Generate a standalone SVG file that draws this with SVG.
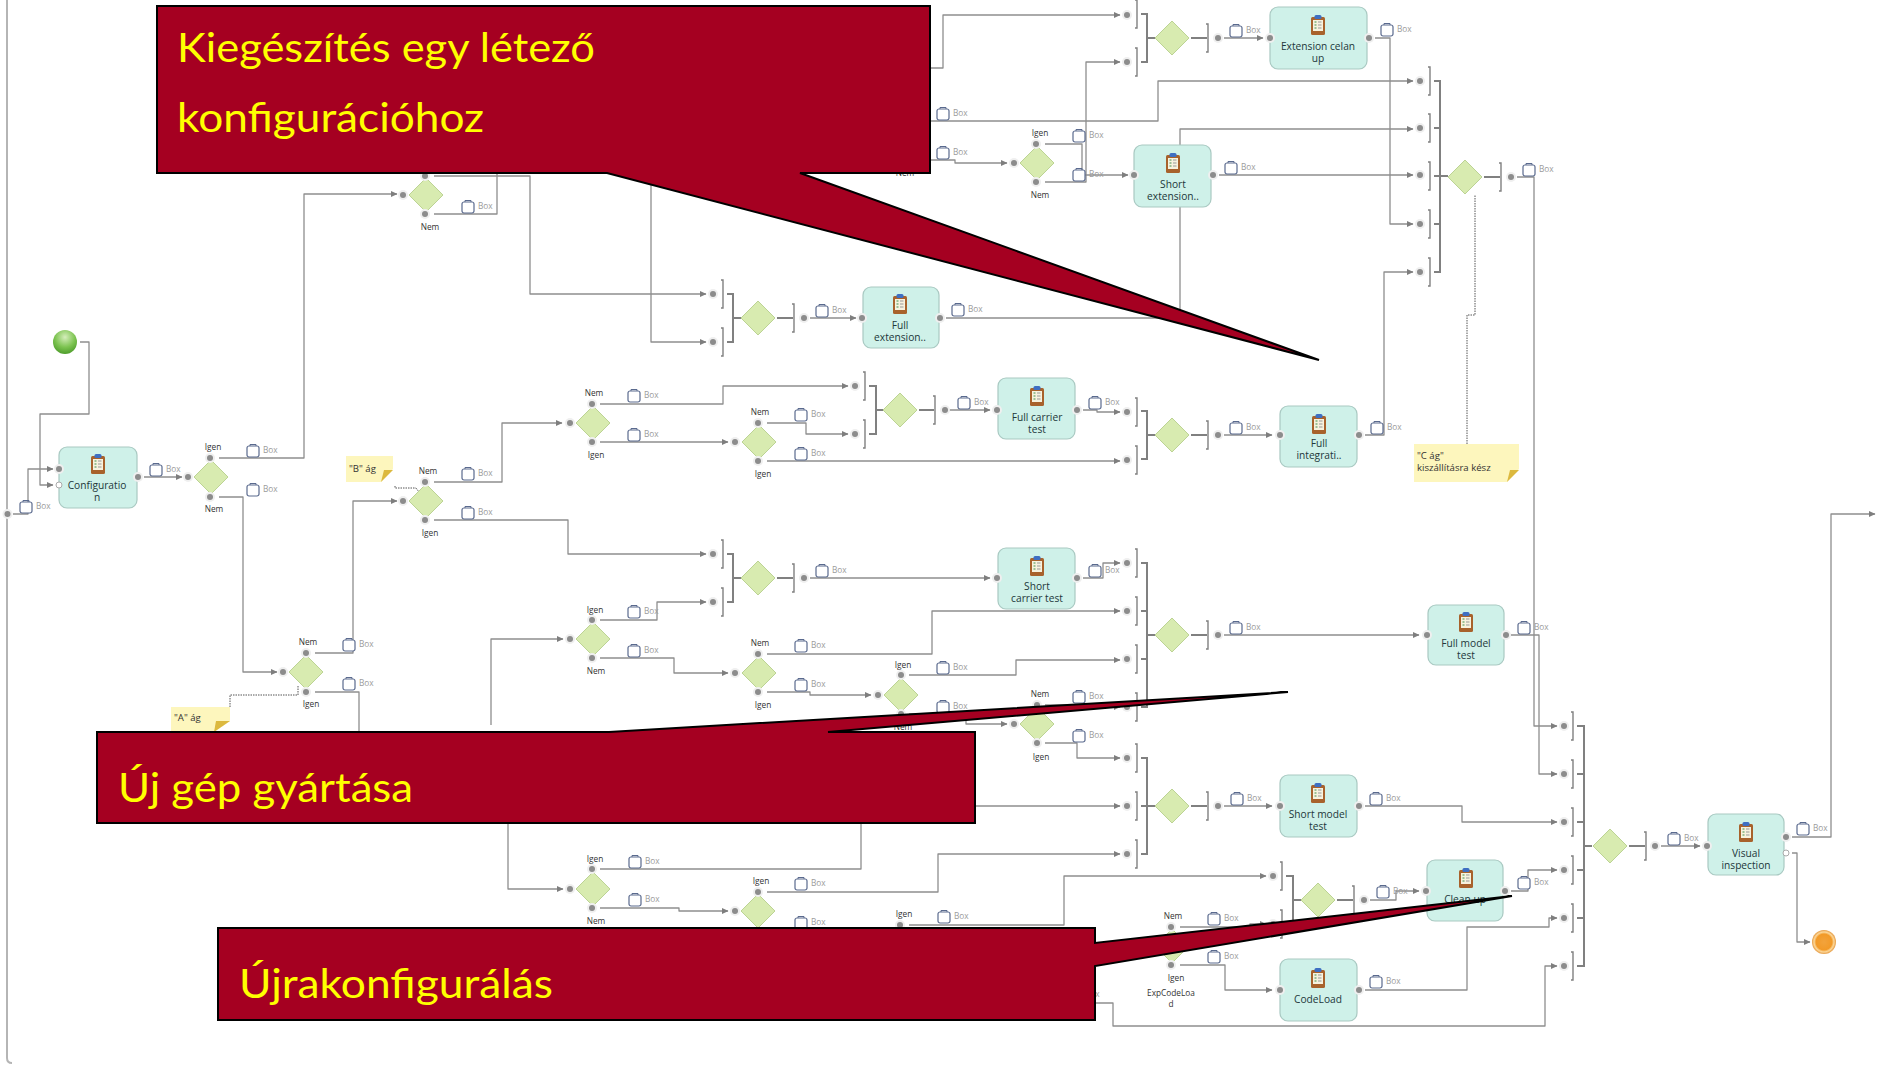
<svg xmlns="http://www.w3.org/2000/svg" width="1879" height="1065" viewBox="0 0 1879 1065">
<style>
text{font-family:"Open Sans","Liberation Sans",Arial,sans-serif}
.c{fill:none;stroke:#8e8e8e;stroke-width:1.3;stroke-linejoin:round}
.a{marker-end:url(#ah)}
.d{fill:none;stroke:#555;stroke-width:1;stroke-dasharray:1.5 1}
.br{fill:none;stroke:#808080;stroke-width:1.4}
.j{fill:none;stroke:#808080;stroke-width:2}
.t{fill:#cff1e9;stroke:#a9c9c2;stroke-width:1.2}
.n{font-size:10.2px;fill:#22373a;text-anchor:middle}
.l{font-size:8.3px;fill:#333;text-anchor:middle}
.b{font-size:8.3px;fill:#9b9b9b}
.note{fill:#fdf6bd}
.fold{fill:#dcb93f}
.nt{font-size:9.6px;fill:#333}
.co{fill:#a50021;stroke:#000;stroke-width:2;stroke-linejoin:miter}
.ct{font-family:Lato,"Open Sans",sans-serif;font-size:41px;fill:#ffff00}
</style>
<defs>
<marker id="ah" markerUnits="userSpaceOnUse" markerWidth="7" markerHeight="7" refX="6.5" refY="3.5" orient="auto"><path d="M0,0.3L7,3.5L0,6.7Z" fill="#7e7e7e"/></marker>
<radialGradient id="gs" cx="50%" cy="30%" r="70%"><stop offset="0" stop-color="#d5eebb"/><stop offset="0.6" stop-color="#7cc350"/><stop offset="1" stop-color="#4f9e2c"/></radialGradient>
<radialGradient id="ge" cx="50%" cy="50%" r="55%"><stop offset="0" stop-color="#f2a33c"/><stop offset="0.6" stop-color="#f29a28"/><stop offset="0.75" stop-color="#fbd79a"/><stop offset="1" stop-color="#d9780f"/></radialGradient>
<g id="dm"><path d="M0,-17L17,0L0,17L-17,0Z" fill="#d8ebb0" stroke="#bcd394" stroke-width="1"/></g>
<g id="p"><circle r="5" fill="#efefef"/><circle r="3" fill="#8c8c8c"/></g>
<g id="pw"><circle r="3" fill="#fff" stroke="#aaa" stroke-width="1"/></g>
<path id="br" class="br" d="M-2,-14H0V14H-2"/>
<g id="bx"><rect x="-6" y="-5" width="12" height="11" rx="2" fill="#fff" stroke="#5a6a8e" stroke-width="1.2"/><path d="M-3,-5V-6.5H3V-5" fill="none" stroke="#5a6a8e" stroke-width="1"/></g>
<g id="ic"><rect x="-7" y="-8" width="14" height="18" rx="1.5" fill="#a8622c"/><rect x="-5" y="-5" width="10" height="11" fill="#f7f2de"/><rect x="-3.5" y="-10" width="7" height="4" rx="1.5" fill="#3e6fc2"/><path d="M-3.5,-3h2M-3.5,0h2M-3.5,3h2" stroke="#3e8f4a" stroke-width="1"/><path d="M0,-3h3.5M0,0h3.5M0,3h3.5" stroke="#999" stroke-width="1"/></g>
</defs>
<rect width="1879" height="1065" fill="#fff"/>
<path d="M7,0V1058Q7,1063 12,1063" fill="none" stroke="#b5b5b5" stroke-width="2"/>
<g id="connectors">
<path class="c a" d="M80,342H89V414H40V485H53"/>
<path class="c a" d="M13,514H28V469H53"/>
<path class="c a" d="M144,477H182"/>
<path class="c a" d="M219,458H304V194H397"/>
<path class="c a" d="M219,497H243V672H277"/>
<path class="c a" d="M315,653H353V501H397"/>
<path class="c" d="M315,692H359V740"/>
<path class="c" d="M434,214H497V160"/>
<path class="c a" d="M434,176H530V294H706"/>
<path class="c a" d="M651,160V342H706"/>
<path class="c a" d="M810,318H856"/>
<path class="c a" d="M946,318H1180V129H1413"/>
<path class="c a" d="M1219,175H1413"/>
<path class="c a" d="M1045,144H1082V175H1128"/>
<path class="c a" d="M1045,182H1086V62H1120"/>
<path class="c a" d="M900,160H955V163H1007"/>
<path class="c a" d="M900,121H1158V81H1413"/>
<path class="c a" d="M900,68H943V15H1120"/>
<path class="c a" d="M1224,38H1263"/>
<path class="c a" d="M1375,38H1390V224H1413"/>
<path class="c a" d="M1365,435H1384V272H1413"/>
<path class="c a" d="M1224,435H1272"/>
<path class="c a" d="M1083,410H1097V412H1120"/>
<path class="c a" d="M767,461H1120"/>
<path class="c a" d="M945,410H990"/>
<path class="c a" d="M1517,177H1534V726H1557"/>
<path class="c a" d="M1511,635H1539V774H1557"/>
<path class="c a" d="M1365,806H1462V822H1557"/>
<path class="c a" d="M1511,891H1528V870H1557"/>
<path class="c a" d="M1365,990H1467V927H1549V918H1557"/>
<path class="c a" d="M1090,1003H1113V1026H1545V966H1557"/>
<path class="c a" d="M1224,806H1272"/>
<path class="c a" d="M1224,635H1419"/>
<path class="c a" d="M909,925H1064V876H1266"/>
<path class="c a" d="M1180,927H1250V924H1266"/>
<path class="c a" d="M1180,965H1225V990H1272"/>
<path class="c a" d="M1370,900H1396V891H1419"/>
<path class="c a" d="M1661,846H1700"/>
<path class="c a" d="M1792,837H1831V514H1875"/>
<path class="c a" d="M1792,853H1797V942H1810"/>
<path class="c a" d="M960,806H1120"/>
<path class="c" d="M600,869H861V800"/>
<path class="c a" d="M508,810V889H563"/>
<path class="c a" d="M491,725V639H563"/>
<path class="c a" d="M600,908H679V911H728"/>
<path class="c a" d="M767,892H938V854H1120"/>
<path class="c a" d="M600,620H657V602H706"/>
<path class="c a" d="M600,658H674V673H728"/>
<path class="c a" d="M767,654H932V611H1120"/>
<path class="c a" d="M767,692H810V695H871"/>
<path class="c a" d="M909,675H1016V660H1120"/>
<path class="c a" d="M909,714H966V724H1007"/>
<path class="c a" d="M1045,705H1080V707H1120"/>
<path class="c a" d="M1045,743H1077V758H1120"/>
<path class="c a" d="M434,520H568V554H706"/>
<path class="c a" d="M810,578H990"/>
<path class="c a" d="M600,404H723V386H848"/>
<path class="c a" d="M600,442H728"/>
<path class="c a" d="M767,423H806V434H848"/>
<path class="c a" d="M434,482H502V423H562"/>
<path class="c a" d="M1083,578H1103V563H1120"/>
<path class="d" d="M230,707V695H298V685"/>
<path class="d" d="M395,486V488H416L419,492"/>
<path class="d" d="M1467,444V315H1475V195"/>
</g>
<g id="connector-labels">
<use href="#bx" x="26" y="507"/><text class="b" x="36" y="509">Box</text>
<use href="#bx" x="156" y="470"/><text class="b" x="166" y="472">Box</text>
<use href="#bx" x="253" y="451"/><text class="b" x="263" y="453">Box</text>
<use href="#bx" x="253" y="490"/><text class="b" x="263" y="492">Box</text>
<use href="#bx" x="349" y="645"/><text class="b" x="359" y="647">Box</text>
<use href="#bx" x="349" y="684"/><text class="b" x="359" y="686">Box</text>
<use href="#bx" x="468" y="207"/><text class="b" x="478" y="209">Box</text>
<use href="#bx" x="468" y="474"/><text class="b" x="478" y="476">Box</text>
<use href="#bx" x="468" y="513"/><text class="b" x="478" y="515">Box</text>
<use href="#bx" x="634" y="396"/><text class="b" x="644" y="398">Box</text>
<use href="#bx" x="634" y="435"/><text class="b" x="644" y="437">Box</text>
<use href="#bx" x="801" y="415"/><text class="b" x="811" y="417">Box</text>
<use href="#bx" x="801" y="454"/><text class="b" x="811" y="456">Box</text>
<use href="#bx" x="822" y="311"/><text class="b" x="832" y="313">Box</text>
<use href="#bx" x="958" y="310"/><text class="b" x="968" y="312">Box</text>
<use href="#bx" x="964" y="403"/><text class="b" x="974" y="405">Box</text>
<use href="#bx" x="1095" y="403"/><text class="b" x="1105" y="405">Box</text>
<use href="#bx" x="1236" y="428"/><text class="b" x="1246" y="430">Box</text>
<use href="#bx" x="1377" y="428"/><text class="b" x="1387" y="430">Box</text>
<use href="#bx" x="1236" y="628"/><text class="b" x="1246" y="630">Box</text>
<use href="#bx" x="1524" y="628"/><text class="b" x="1534" y="630">Box</text>
<use href="#bx" x="1237" y="799"/><text class="b" x="1247" y="801">Box</text>
<use href="#bx" x="1376" y="799"/><text class="b" x="1386" y="801">Box</text>
<use href="#bx" x="1383" y="892"/><text class="b" x="1393" y="894">Box</text>
<use href="#bx" x="1524" y="883"/><text class="b" x="1534" y="885">Box</text>
<use href="#bx" x="1214" y="919"/><text class="b" x="1224" y="921">Box</text>
<use href="#bx" x="1214" y="957"/><text class="b" x="1224" y="959">Box</text>
<use href="#bx" x="1376" y="982"/><text class="b" x="1386" y="984">Box</text>
<use href="#bx" x="1674" y="839"/><text class="b" x="1684" y="841">Box</text>
<use href="#bx" x="1803" y="829"/><text class="b" x="1813" y="831">Box</text>
<use href="#bx" x="1236" y="31"/><text class="b" x="1246" y="33">Box</text>
<use href="#bx" x="1387" y="30"/><text class="b" x="1397" y="32">Box</text>
<use href="#bx" x="943" y="114"/><text class="b" x="953" y="116">Box</text>
<use href="#bx" x="943" y="153"/><text class="b" x="953" y="155">Box</text>
<use href="#bx" x="1079" y="136"/><text class="b" x="1089" y="138">Box</text>
<use href="#bx" x="1079" y="175"/><text class="b" x="1089" y="177">Box</text>
<use href="#bx" x="1231" y="168"/><text class="b" x="1241" y="170">Box</text>
<use href="#bx" x="1529" y="170"/><text class="b" x="1539" y="172">Box</text>
<use href="#bx" x="822" y="571"/><text class="b" x="832" y="573">Box</text>
<use href="#bx" x="1095" y="571"/><text class="b" x="1105" y="573">Box</text>
<use href="#bx" x="634" y="612"/><text class="b" x="644" y="614">Box</text>
<use href="#bx" x="634" y="651"/><text class="b" x="644" y="653">Box</text>
<use href="#bx" x="801" y="646"/><text class="b" x="811" y="648">Box</text>
<use href="#bx" x="801" y="685"/><text class="b" x="811" y="687">Box</text>
<use href="#bx" x="943" y="668"/><text class="b" x="953" y="670">Box</text>
<use href="#bx" x="943" y="707"/><text class="b" x="953" y="709">Box</text>
<use href="#bx" x="1079" y="697"/><text class="b" x="1089" y="699">Box</text>
<use href="#bx" x="1079" y="736"/><text class="b" x="1089" y="738">Box</text>
<use href="#bx" x="635" y="862"/><text class="b" x="645" y="864">Box</text>
<use href="#bx" x="635" y="900"/><text class="b" x="645" y="902">Box</text>
<use href="#bx" x="801" y="884"/><text class="b" x="811" y="886">Box</text>
<use href="#bx" x="801" y="923"/><text class="b" x="811" y="925">Box</text>
<use href="#bx" x="944" y="917"/><text class="b" x="954" y="919">Box</text>
<text class="b" x="1085" y="997">Box</text>
<text class="l" x="905" y="176">Nem</text>
</g>
<g id="start"><circle cx="65" cy="342" r="12" fill="url(#gs)"/></g>
<g id="end"><circle cx="1824" cy="942" r="12" fill="url(#ge)"/></g>
<g id="port-left"><use href="#p" x="7.5" y="514"/></g>
<g id="t-configuration"><rect class="t" x="59" y="447" width="78" height="61" rx="8"/><use href="#ic" x="98" y="464"/><text class="n" x="97" y="489">Configuratio</text><text class="n" x="97" y="501">n</text><use href="#p" x="59" y="469"/><use href="#pw" x="59" y="485"/><use href="#p" x="138" y="477"/></g>
<g id="t-full-extension"><rect class="t" x="863" y="287" width="76" height="61" rx="8"/><use href="#ic" x="900" y="304"/><text class="n" x="900" y="329">Full</text><text class="n" x="900" y="341">extension..</text><use href="#p" x="862" y="318"/><use href="#p" x="940" y="318"/></g>
<g id="t-full-carrier"><rect class="t" x="998" y="378" width="77" height="61" rx="8"/><use href="#ic" x="1037" y="396"/><text class="n" x="1037" y="421">Full carrier</text><text class="n" x="1037" y="433">test</text><use href="#p" x="997" y="410"/><use href="#p" x="1077" y="410"/></g>
<g id="t-full-integration"><rect class="t" x="1280" y="406" width="77" height="61" rx="8"/><use href="#ic" x="1319" y="424"/><text class="n" x="1319" y="447">Full</text><text class="n" x="1319" y="459">integrati..</text><use href="#p" x="1280" y="435"/><use href="#p" x="1359" y="435"/></g>
<g id="t-short-carrier"><rect class="t" x="998" y="548" width="77" height="61" rx="8"/><use href="#ic" x="1037" y="566"/><text class="n" x="1037" y="590">Short</text><text class="n" x="1037" y="602">carrier test</text><use href="#p" x="997" y="578"/><use href="#p" x="1077" y="578"/></g>
<g id="t-full-model"><rect class="t" x="1428" y="605" width="76" height="60" rx="8"/><use href="#ic" x="1466" y="622"/><text class="n" x="1466" y="647">Full model</text><text class="n" x="1466" y="659">test</text><use href="#p" x="1427" y="635"/><use href="#p" x="1506" y="635"/></g>
<g id="t-short-model"><rect class="t" x="1280" y="775" width="77" height="62" rx="8"/><use href="#ic" x="1318" y="793"/><text class="n" x="1318" y="818">Short model</text><text class="n" x="1318" y="830">test</text><use href="#p" x="1280" y="806"/><use href="#p" x="1359" y="806"/></g>
<g id="t-clean-up"><rect class="t" x="1427" y="860" width="76" height="61" rx="8"/><use href="#ic" x="1466" y="878"/><text class="n" x="1465" y="903">Clean up</text><use href="#p" x="1426" y="891"/><use href="#p" x="1505" y="891"/></g>
<g id="t-codeload"><rect class="t" x="1280" y="959" width="77" height="62" rx="8"/><use href="#ic" x="1318" y="978"/><text class="n" x="1318" y="1003">CodeLoad</text><use href="#p" x="1280" y="990"/><use href="#p" x="1359" y="990"/></g>
<g id="t-visual"><rect class="t" x="1708" y="814" width="76" height="61" rx="8"/><use href="#ic" x="1746" y="832"/><text class="n" x="1746" y="857">Visual</text><text class="n" x="1746" y="869">inspection</text><use href="#p" x="1707" y="846"/><use href="#p" x="1786" y="837"/><use href="#pw" x="1786" y="853"/></g>
<g id="t-extension-cleanup"><rect class="t" x="1270" y="7" width="97" height="62" rx="8"/><use href="#ic" x="1318" y="25"/><text class="n" x="1318" y="50">Extension celan</text><text class="n" x="1318" y="62">up</text><use href="#p" x="1270" y="38"/><use href="#p" x="1369" y="38"/></g>
<g id="t-short-extension"><rect class="t" x="1134" y="145" width="77" height="62" rx="8"/><use href="#ic" x="1173" y="163"/><text class="n" x="1173" y="188">Short</text><text class="n" x="1173" y="200">extension..</text><use href="#p" x="1134" y="175"/><use href="#p" x="1213" y="175"/></g>

<g id="g1"><use href="#dm" x="211" y="477"/><use href="#p" x="188" y="477"/><use href="#p" x="210" y="458"/><use href="#p" x="210" y="497"/><text class="l" x="213" y="450">Igen</text><text class="l" x="214" y="512">Nem</text></g>
<g id="g2"><use href="#dm" x="306" y="672"/><use href="#p" x="283" y="672"/><use href="#p" x="306" y="653"/><use href="#p" x="306" y="692"/><text class="l" x="308" y="645">Nem</text><text class="l" x="311" y="707">Igen</text></g>
<g id="g3"><use href="#dm" x="426" y="195"/><use href="#p" x="403" y="195"/><use href="#p" x="425" y="176"/><use href="#p" x="425" y="214"/><text class="l" x="430" y="230">Nem</text></g>
<g id="g4"><use href="#dm" x="426" y="501"/><use href="#p" x="403" y="501"/><use href="#p" x="425" y="482"/><use href="#p" x="425" y="520"/><text class="l" x="428" y="474">Nem</text><text class="l" x="430" y="536">Igen</text></g>
<g id="g5"><use href="#dm" x="593" y="423"/><use href="#p" x="570" y="423"/><use href="#p" x="592" y="404"/><use href="#p" x="592" y="442"/><text class="l" x="594" y="396">Nem</text><text class="l" x="596" y="458">Igen</text></g>
<g id="g6"><use href="#dm" x="759" y="442"/><use href="#p" x="735" y="442"/><use href="#p" x="758" y="423"/><use href="#p" x="758" y="461"/><text class="l" x="760" y="415">Nem</text><text class="l" x="763" y="477">Igen</text></g>
<g id="g7"><use href="#dm" x="593" y="639"/><use href="#p" x="570" y="639"/><use href="#p" x="592" y="620"/><use href="#p" x="592" y="658"/><text class="l" x="595" y="613">Igen</text><text class="l" x="596" y="674">Nem</text></g>
<g id="g8"><use href="#dm" x="759" y="673"/><use href="#p" x="735" y="673"/><use href="#p" x="758" y="654"/><use href="#p" x="758" y="692"/><text class="l" x="760" y="646">Nem</text><text class="l" x="763" y="708">Igen</text></g>
<g id="g9"><use href="#dm" x="901" y="695"/><use href="#p" x="878" y="695"/><use href="#p" x="901" y="675"/><use href="#p" x="901" y="714"/><text class="l" x="903" y="668">Igen</text><text class="l" x="903" y="730">Nem</text></g>
<g id="g10"><use href="#dm" x="1037" y="724"/><use href="#p" x="1014" y="724"/><use href="#p" x="1037" y="705"/><use href="#p" x="1037" y="743"/><text class="l" x="1040" y="697">Nem</text><text class="l" x="1041" y="760">Igen</text></g>
<g id="g11"><use href="#dm" x="593" y="889"/><use href="#p" x="570" y="889"/><use href="#p" x="592" y="869"/><use href="#p" x="592" y="908"/><text class="l" x="595" y="862">Igen</text><text class="l" x="596" y="924">Nem</text></g>
<g id="g12"><use href="#dm" x="758" y="911"/><use href="#p" x="735" y="911"/><use href="#p" x="758" y="892"/><text class="l" x="761" y="884">Igen</text></g>
<g id="g13"><use href="#p" x="900" y="925"/><text class="l" x="904" y="917">Igen</text></g>
<g id="g14"><use href="#dm" x="1037" y="163"/><use href="#p" x="1014" y="163"/><use href="#p" x="1036" y="144"/><use href="#p" x="1036" y="182"/><text class="l" x="1040" y="136">Igen</text><text class="l" x="1040" y="198">Nem</text></g>
<g id="g15"><use href="#dm" x="1172" y="946"/><use href="#p" x="1171" y="927"/><use href="#p" x="1171" y="965"/><text class="l" x="1173" y="919">Nem</text><text class="l" x="1176" y="981">Igen</text><text class="l" x="1171" y="996">ExpCodeLoa</text><text class="l" x="1171" y="1007">d</text></g>

<g id="m1"><use href="#p" x="713" y="294"/><use href="#p" x="713" y="342"/><use href="#br" x="723" y="294"/><use href="#br" x="723" y="342"/><path class="j" d="M727,294H733V342H727M733,318H741"/><use href="#dm" x="758" y="318"/><path class="j" d="M777,318H793"/><use href="#br" x="794" y="318"/><use href="#p" x="804" y="318"/></g>
<g id="m2"><use href="#p" x="855" y="386"/><use href="#p" x="855" y="434"/><use href="#br" x="865" y="386"/><use href="#br" x="865" y="434"/><path class="j" d="M869,386H876V434H869M876,410H884"/><use href="#dm" x="900" y="410"/><path class="j" d="M919,410H934"/><use href="#br" x="935" y="410"/><use href="#p" x="945" y="410"/></g>
<g id="m3"><use href="#p" x="1127" y="412"/><use href="#p" x="1127" y="460"/><use href="#br" x="1137" y="412"/><use href="#br" x="1137" y="460"/><path class="j" d="M1141,411H1147V459H1141M1147,435H1155"/><use href="#dm" x="1172" y="435"/><path class="j" d="M1191,435H1207"/><use href="#br" x="1208" y="435"/><use href="#p" x="1218" y="435"/></g>
<g id="m4"><use href="#p" x="713" y="554"/><use href="#p" x="713" y="602"/><use href="#br" x="723" y="554"/><use href="#br" x="723" y="602"/><path class="j" d="M727,554H733V602H727M733,578H741"/><use href="#dm" x="758" y="578"/><path class="j" d="M777,578H793"/><use href="#br" x="794" y="578"/><use href="#p" x="804" y="578"/></g>
<g id="m5"><use href="#p" x="1127" y="563"/><use href="#p" x="1127" y="611"/><use href="#p" x="1127" y="659"/><use href="#p" x="1127" y="707"/><use href="#br" x="1137" y="563"/><use href="#br" x="1137" y="611"/><use href="#br" x="1137" y="659"/><use href="#br" x="1137" y="707"/><path class="j" d="M1141,563H1147V707H1141M1141,611H1147M1141,659H1147M1147,635H1155"/><use href="#dm" x="1172" y="635"/><path class="j" d="M1191,635H1207"/><use href="#br" x="1208" y="635"/><use href="#p" x="1218" y="635"/></g>
<g id="m6"><use href="#p" x="1127" y="758"/><use href="#p" x="1127" y="806"/><use href="#p" x="1127" y="854"/><use href="#br" x="1137" y="758"/><use href="#br" x="1137" y="806"/><use href="#br" x="1137" y="854"/><path class="j" d="M1141,758H1147V854H1141M1141,806H1155"/><use href="#dm" x="1172" y="806"/><path class="j" d="M1191,806H1207"/><use href="#br" x="1208" y="806"/><use href="#p" x="1218" y="806"/></g>
<g id="m7"><use href="#p" x="1273" y="876"/><use href="#p" x="1273" y="924"/><use href="#br" x="1282" y="876"/><use href="#br" x="1282" y="924"/><path class="j" d="M1286,876H1293V924H1286M1293,900H1301"/><use href="#dm" x="1318" y="900"/><path class="j" d="M1337,900H1353"/><use href="#br" x="1354" y="900"/><use href="#p" x="1364" y="900"/></g>
<g id="m8"><use href="#p" x="1127" y="15"/><use href="#p" x="1127" y="62"/><use href="#br" x="1137" y="14"/><use href="#br" x="1137" y="62"/><path class="j" d="M1141,14H1147V62H1141M1147,38H1155"/><use href="#dm" x="1172" y="38"/><path class="j" d="M1191,38H1207"/><use href="#br" x="1208" y="38"/><use href="#p" x="1218" y="38"/></g>
<g id="m9"><use href="#p" x="1420" y="81"/><use href="#p" x="1420" y="128"/><use href="#p" x="1420" y="175"/><use href="#p" x="1420" y="224"/><use href="#p" x="1420" y="272"/><use href="#br" x="1430" y="81"/><use href="#br" x="1430" y="128"/><use href="#br" x="1430" y="176"/><use href="#br" x="1430" y="224"/><use href="#br" x="1430" y="272"/><path class="j" d="M1434,81H1440V272H1434M1434,128H1440M1434,224H1440M1434,176H1448"/><use href="#dm" x="1465" y="177"/><path class="j" d="M1484,177H1500"/><use href="#br" x="1501" y="177"/><use href="#p" x="1511" y="177"/></g>
<g id="m10"><use href="#p" x="1564" y="726"/><use href="#p" x="1564" y="774"/><use href="#p" x="1564" y="822"/><use href="#p" x="1564" y="870"/><use href="#p" x="1564" y="918"/><use href="#p" x="1564" y="966"/><use href="#br" x="1573" y="726"/><use href="#br" x="1573" y="774"/><use href="#br" x="1573" y="822"/><use href="#br" x="1573" y="870"/><use href="#br" x="1573" y="918"/><use href="#br" x="1573" y="966"/><path class="j" d="M1577,726H1584V966H1577M1577,774H1584M1577,822H1584M1577,870H1584M1577,918H1584M1584,846H1592"/><use href="#dm" x="1610" y="846"/><path class="j" d="M1629,846H1645"/><use href="#br" x="1646" y="846"/><use href="#p" x="1655" y="846"/></g>

<g id="note-a"><path class="note" d="M171,707H230V721L214,732H171Z"/><path class="fold" d="M214,732L216,721H230Z"/><text class="nt" x="174" y="721">"A" ág</text></g>
<g id="note-b"><path class="note" d="M346,456H393V469L381,482H346Z"/><path class="fold" d="M381,482L384,470H393Z"/><text class="nt" x="349" y="472">"B" ág</text></g>
<g id="note-c"><path class="note" d="M1414,444H1519V469L1507,482H1414Z"/><path class="fold" d="M1507,482L1510,470H1519Z"/><text class="nt" x="1417" y="459">"C ág"</text><text class="nt" x="1417" y="471">kiszállításra kész</text></g>

<g id="callout-1"><path class="co" d="M157,6H930V173H800L1319,360L607,173H157Z"/><text class="ct" x="177" y="62" textLength="418" lengthAdjust="spacingAndGlyphs">Kiegészítés egy létező</text><text class="ct" x="177" y="132" textLength="307" lengthAdjust="spacingAndGlyphs">konfigurációhoz</text></g>
<g id="callout-2"><path class="co" d="M97,732H609L1288,692L828,732H975V823H97Z"/><text class="ct" x="118" y="802" textLength="295" lengthAdjust="spacingAndGlyphs">Új gép gyártása</text></g>
<g id="callout-3"><path class="co" d="M218,928H1095V943L1512,896L1095,966V1020H218Z"/><text class="ct" x="239" y="998" textLength="314" lengthAdjust="spacingAndGlyphs">Újrakonfigurálás</text></g>
</svg>
